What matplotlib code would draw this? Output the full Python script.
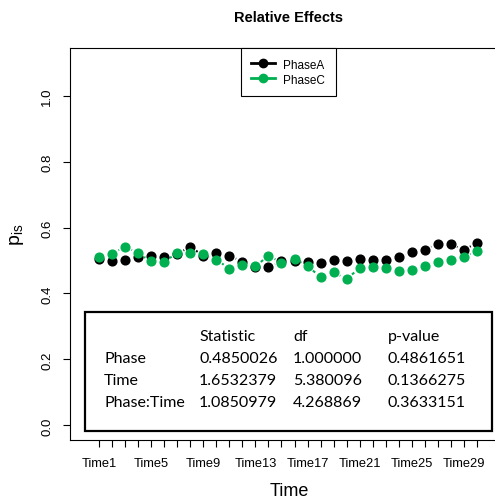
import matplotlib
matplotlib.use('Agg')
import matplotlib.pyplot as plt
from matplotlib.lines import Line2D
from matplotlib.patches import Rectangle
import numpy as np

plt.rcParams['font.family'] = ['Liberation Sans', 'DejaVu Sans']
plt.rcParams['mathtext.fontset'] = 'custom'
plt.rcParams['mathtext.rm'] = 'Liberation Sans'
plt.rcParams['mathtext.it'] = 'Liberation Sans'

times = ["Time1", "Time2", "Time3", "Time4", "Time5", "Time6", "Time7", "Time8",
         "Time9", "Time10", "Time11", "Time12", "Time13", "Time14", "Time15",
         "Time16", "Time17", "Time18", "Time19", "Time20", "Time21", "Time22",
         "Time23", "Time24", "Time25", "Time26", "Time27", "Time28", "Time29", "Time30"]
phase_a = [0.505, 0.499, 0.500, 0.510, 0.514, 0.511, 0.520, 0.542, 0.514, 0.523,
           0.515, 0.496, 0.480, 0.480, 0.497, 0.497, 0.494, 0.492, 0.503, 0.499,
           0.505, 0.503, 0.503, 0.510, 0.526, 0.533, 0.551, 0.551, 0.531, 0.554]
phase_c = [0.512, 0.521, 0.542, 0.522, 0.497, 0.495, 0.524, 0.524, 0.520, 0.503,
           0.475, 0.485, 0.482, 0.515, 0.493, 0.505, 0.483, 0.450, 0.464, 0.444,
           0.477, 0.480, 0.476, 0.469, 0.470, 0.483, 0.495, 0.503, 0.510, 0.530]
series_names = ["PhaseA", "PhaseC"]
series_colors = ["black", "#00B050"]

table_header = ["", "Statistic", "df", "p-value"]
table_rows = [["Phase", "0.4850026", "1.000000", "0.4861651"],
              ["Time", "1.6532379", "5.380096", "0.1366275"],
              ["Phase:Time", "1.0850979", "4.268869", "0.3633151"]]

W, H = 495, 502
fig = plt.figure(figsize=(W / 100, H / 100), dpi=100)

def fx(x):
    return x / W

def fy(y):
    return 1 - y / H

ax = fig.add_axes([fx(70), fy(441), (506 - 70) / W, (441 - 49) / H])
x = np.arange(1, len(times) + 1)
ax.set_xlim(0 - 1.24, 31 + 1.24)
ax.set_ylim(-0.044, 1.144)

def draw_gapped(ax, xs, ys, color, gap_px=7.0):
    trans = ax.transData
    inv = trans.inverted()
    pts = trans.transform(np.column_stack([xs, ys]))
    for p0, p1 in zip(pts[:-1], pts[1:]):
        d = p1 - p0
        L = np.hypot(*d)
        if L > 2 * gap_px:
            u = d / L
            a = inv.transform(p0 + u * gap_px)
            b = inv.transform(p1 - u * gap_px)
            ax.plot([a[0], b[0]], [a[1], b[1]], color=color, lw=1.5,
                    ls=(0, (2, 1.5)), solid_capstyle='butt', dash_capstyle='butt')

for ys, col in zip([phase_a, phase_c], series_colors):
    draw_gapped(ax, x, ys, col)
for ys, col in zip([phase_a, phase_c], series_colors):
    ax.plot(x, ys, ls='none', marker='o', ms=6.3, color=col, mec=col)

ax.set_xticks(x)
ax.set_xticklabels([t if i % 4 == 0 else "" for i, t in enumerate(times)])
ax.set_yticks([0.0, 0.2, 0.4, 0.6, 0.8, 1.0])
ax.set_yticklabels(["0.0", "0.2", "0.4", "0.6", "0.8", "1.0"], rotation=90, va='center')
ax.tick_params(axis='x', length=5, width=0.8, pad=7, labelsize=9.3)
ax.tick_params(axis='y', length=5, width=0.8, pad=7, labelsize=9.5)
for s in ax.spines.values():
    s.set_linewidth(0.8)

fig.text(fx(289), fy(492), "Time", ha='center', va='center', fontsize=13)
fig.text(fx(17), fy(235), r"$\mathrm{p_{is}}$", ha='center', va='center', fontsize=14, rotation=90)
fig.text(fx(289), fy(18), "Relative Effects", ha='center', va='center', fontsize=10.5, weight='bold')

handles = [Line2D([], [], color=c, lw=2, marker='o', ms=6) for c in series_colors]
leg = ax.legend(handles, series_names, loc='upper center', bbox_to_anchor=(0.5, 1.0),
                borderaxespad=0, frameon=True, fancybox=False, edgecolor='black',
                framealpha=1, fontsize=8.5, handlelength=2.0, borderpad=0.9,
                labelspacing=0.25, handletextpad=0.7)
leg.get_frame().set_linewidth(0.8)

# statistics table
fig.patches.append(Rectangle((fx(85), fy(432)), (492 - 85) / W, (432 - 313) / H,
                             transform=fig.transFigure, fill=False, lw=1.6, ec='black'))
col_x = [104, 199, 293, 388]
row_y = [341.5, 363.3, 385, 406.7]
tfont = dict(family=['Lato', 'DejaVu Sans'], fontsize=11.5, va='baseline', ha='left')
for cx, txt in zip(col_x, table_header):
    fig.text(fx(cx), fy(row_y[0]), txt, **tfont)
for ry, row in zip(row_y[1:], table_rows):
    for cx, txt in zip(col_x, row):
        fig.text(fx(cx), fy(ry), txt, **tfont)

fig.savefig("out.png", dpi=100)
